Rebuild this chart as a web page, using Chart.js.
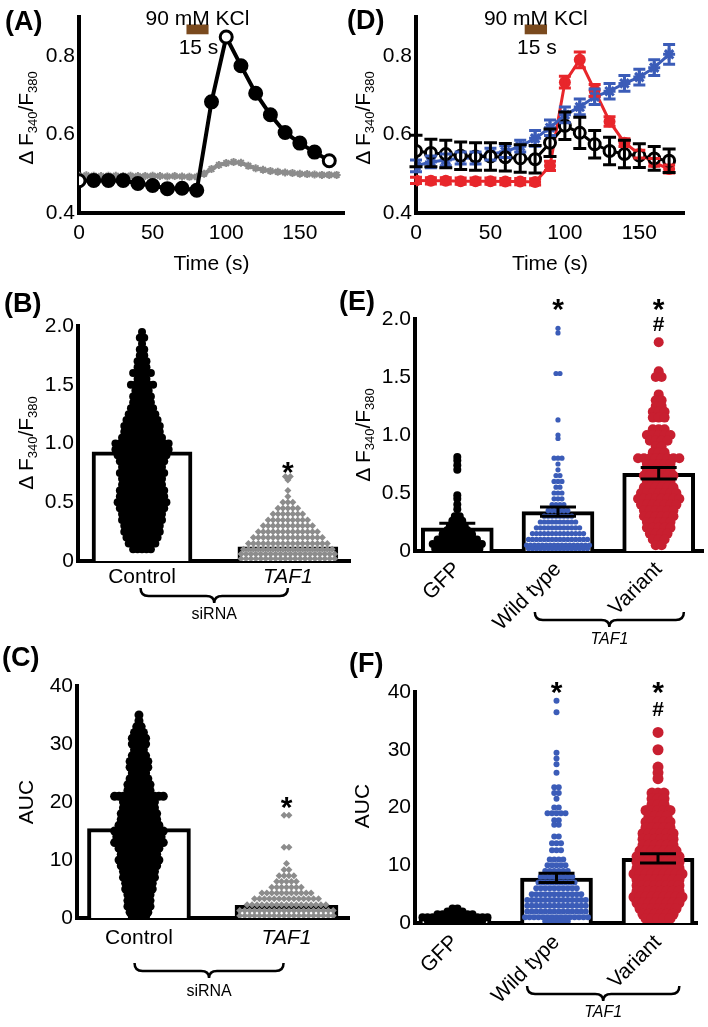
<!DOCTYPE html>
<html lang="en">
<head>
<meta charset="UTF-8">
<title>TAF1 KCl calcium responses</title>
<script src="https://cdn.jsdelivr.net/npm/chart.js"></script>
<style>
  body { margin: 0; background: #fff; font-family: 'Liberation Sans', Arial, sans-serif; }
  #fig { position: relative; width: 708px; height: 1027px; overflow: hidden; }
  #fig canvas { position: absolute; }
  .lbl { position: absolute; font-weight: bold; font-size: 27px; line-height: 1; transform: translateY(-50%); }
  .ytitle { position: absolute; font-size: 21px; line-height: 1; white-space: nowrap; transform: translate(-50%, -50%) rotate(-90deg); }
  .ytitle sub { font-size: 13px; vertical-align: -4px; }
</style>
</head>
<body>
<div id="fig">
  <canvas id="cA" width="354" height="280" style="left:0;top:0"></canvas>
  <canvas id="cD" width="354" height="280" style="left:354px;top:0"></canvas>
  <canvas id="cB" width="354" height="350" style="left:0;top:280px"></canvas>
  <canvas id="cE" width="354" height="380" style="left:354px;top:270px"></canvas>
  <canvas id="cC" width="354" height="380" style="left:0;top:630px"></canvas>
  <canvas id="cF" width="354" height="377" style="left:354px;top:650px"></canvas>

  <div class="lbl" style="left:5px;top:21px">(A)</div>
  <div class="lbl" style="left:347px;top:20px">(D)</div>
  <div class="lbl" style="left:4px;top:303px">(B)</div>
  <div class="lbl" style="left:339px;top:301px">(E)</div>
  <div class="lbl" style="left:2px;top:657px">(C)</div>
  <div class="lbl" style="left:349px;top:663px">(F)</div>

  <div class="ytitle" style="left:27px;top:118px">&Delta; F<sub>340</sub>/F<sub>380</sub></div>
  <div class="ytitle" style="left:364px;top:118px">&Delta; F<sub>340</sub>/F<sub>380</sub></div>
  <div class="ytitle" style="left:27px;top:443px">&Delta; F<sub>340</sub>/F<sub>380</sub></div>
  <div class="ytitle" style="left:364px;top:435px">&Delta; F<sub>340</sub>/F<sub>380</sub></div>
  <div class="ytitle" style="left:25px;top:802px">AUC</div>
  <div class="ytitle" style="left:361px;top:806px">AUC</div>
</div>

<script>
// ---------- data ----------
const timeTicks = [0, 50, 100, 150];
const ratioTicksA = [0.4, 0.6, 0.8];
const ratioTicks = [0, 0.5, 1, 1.5, 2];
const aucTicks = [0, 10, 20, 30, 40];

// (A) siRNA traces
const timeA = [0, 10, 20, 30, 40, 50, 60, 70, 80, 90, 100, 110, 120, 130, 140, 150, 160, 170];
const aControl = [0.482, 0.483, 0.483, 0.483, 0.475, 0.47, 0.462, 0.463, 0.458, 0.683, 0.848, 0.775, 0.705, 0.65, 0.605, 0.578, 0.555, 0.533];
const timeGray = [0, 5, 10, 15, 20, 25, 30, 35, 40, 45, 50, 55, 60, 65, 70, 75, 80, 85, 90, 95, 100, 105, 110, 115, 120, 125, 130, 135, 140, 145, 150, 155, 160, 165, 170, 175];
const aTaf1 = [0.495, 0.496, 0.495, 0.494, 0.495, 0.495, 0.494, 0.495, 0.494, 0.494, 0.495, 0.494, 0.493, 0.494, 0.493, 0.492, 0.492, 0.5, 0.512, 0.522, 0.527, 0.53, 0.528, 0.52, 0.514, 0.51, 0.507, 0.505, 0.503, 0.502, 0.5, 0.499, 0.498, 0.497, 0.497, 0.497];
const stimStart = 73, stimEnd = 88;

// (D) overexpression traces
const timeD = [0, 10, 20, 30, 40, 50, 60, 70, 80, 90, 100, 110, 120, 130, 140, 150, 160, 170];
const dGfp = [0.558, 0.553, 0.55, 0.546, 0.544, 0.544, 0.542, 0.539, 0.537, 0.579, 0.622, 0.604, 0.575, 0.558, 0.55, 0.546, 0.539, 0.533];
const dGfpSem = [0.04, 0.035, 0.035, 0.035, 0.035, 0.035, 0.035, 0.035, 0.035, 0.035, 0.035, 0.04, 0.035, 0.035, 0.035, 0.03, 0.03, 0.03];
const dVariant = [0.483, 0.482, 0.482, 0.481, 0.481, 0.481, 0.48, 0.48, 0.479, 0.52, 0.733, 0.79, 0.712, 0.633, 0.579, 0.55, 0.529, 0.512];
const dVariantSem = [0.008, 0.008, 0.008, 0.008, 0.008, 0.008, 0.008, 0.008, 0.008, 0.012, 0.015, 0.02, 0.015, 0.012, 0.01, 0.01, 0.01, 0.01];
const dWild = [0.52, 0.53, 0.535, 0.54, 0.54, 0.55, 0.556, 0.57, 0.59, 0.617, 0.65, 0.67, 0.696, 0.71, 0.73, 0.746, 0.77, 0.804];
const dWildSem = [0.015, 0.015, 0.015, 0.015, 0.015, 0.015, 0.015, 0.015, 0.02, 0.02, 0.02, 0.02, 0.02, 0.02, 0.02, 0.02, 0.02, 0.025];

// (B) peak response, siRNA
const sirnaGroups = ['Control', 'TAF1'];
const bMeans = [0.93, 0.12];
const bSem = [0.02, 0];
const bCtrlLevels = [1.95, 1.9, 1.85, 1.8, 1.75, 1.7, 1.65, 1.6, 1.55, 1.5, 1.45, 1.4, 1.35, 1.3, 1.25, 1.2, 1.15, 1.1, 1.05, 1.0, 0.95, 0.9, 0.85, 0.8, 0.75, 0.7, 0.65, 0.6, 0.55, 0.5, 0.45, 0.4, 0.35, 0.3, 0.25, 0.2, 0.15, 0.1];
const bCtrlCounts = [1, 2, 1, 2, 2, 3, 3, 5, 3, 6, 4, 5, 5, 6, 7, 8, 9, 9, 10, 13, 13, 12, 11, 10, 11, 10, 10, 11, 11, 12, 11, 10, 10, 9, 9, 8, 7, 5];
const bTafLevels = [0.72, 0.69, 0.6, 0.55, 0.5, 0.45, 0.4, 0.35, 0.3, 0.25, 0.2, 0.15, 0.1, 0.06, 0.02];
const bTafCounts = [2, 1, 1, 1, 3, 5, 7, 9, 11, 13, 15, 17, 19, 20, 20];

// (C) AUC, siRNA
const cMeans = [15.4, 2.2];
const cSem = [0.5, 0];
const cCtrlLevels = [35, 34, 33, 32, 31, 30, 29, 28, 27, 26, 25, 24, 23, 22, 21, 20, 19, 18, 17, 16, 15, 14, 13, 12, 11, 10, 9, 8, 7, 6, 5, 4, 3, 2, 1, 0.3];
const cCtrlCounts = [1, 1, 2, 3, 4, 4, 3, 4, 5, 5, 4, 5, 6, 6, 12, 8, 8, 9, 9, 10, 12, 11, 12, 10, 9, 10, 9, 8, 8, 7, 7, 6, 6, 6, 5, 4];
const cTafLevels = [17.7, 12.2, 9.4, 8.3, 7.3, 6.3, 5.3, 4.3, 3.3, 2.3, 1.3, 0.4];
const cTafCounts = [2, 2, 1, 2, 4, 5, 7, 11, 14, 17, 20, 20];

// (E) peak response, overexpression
const oeGroups = ['GFP', 'Wild type', 'Variant'];
const eMeans = [0.2, 0.34, 0.67];
const eSem = [0.04, 0.04, 0.05];
const eGfpLevels = [0.81, 0.78, 0.74, 0.7, 0.48, 0.45, 0.4, 0.36, 0.3, 0.26, 0.22, 0.18, 0.14, 0.1, 0.06, 0.02];
const eGfpCounts = [1, 1, 1, 1, 1, 1, 1, 1, 2, 3, 4, 5, 7, 9, 11, 10];
const eWtLevels = [1.92, 1.88, 1.53, 1.13, 1.0, 0.97, 0.8, 0.75, 0.7, 0.65, 0.6, 0.55, 0.5, 0.45, 0.4, 0.35, 0.3, 0.25, 0.2, 0.15, 0.1, 0.05, 0.02];
const eWtCounts = [1, 1, 2, 1, 1, 1, 3, 1, 1, 2, 3, 2, 3, 3, 4, 6, 8, 10, 12, 14, 16, 17, 16];
const eVarLevels = [1.8, 1.55, 1.5, 1.35, 1.3, 1.25, 1.2, 1.15, 1.05, 1.0, 0.95, 0.9, 0.85, 0.8, 0.75, 0.7, 0.65, 0.6, 0.55, 0.5, 0.45, 0.4, 0.35, 0.3, 0.25, 0.2, 0.15, 0.1, 0.05];
const eVarCounts = [1, 1, 2, 1, 2, 2, 3, 3, 3, 5, 4, 2, 3, 8, 5, 5, 6, 5, 6, 7, 8, 7, 6, 6, 5, 5, 4, 3, 2];

// (F) AUC, overexpression
const fMeans = [0.9, 7.8, 11.2];
const fSem = [0.1, 0.8, 0.8];
const fGfpLevels = [2.5, 2.0, 1.5, 1.0, 0.5];
const fGfpCounts = [2, 4, 8, 14, 12];
const fWtLevels = [38.5, 36.5, 29.5, 28.5, 27.5, 26, 23.5, 22.5, 21.5, 20, 19, 17.8, 17, 15, 13.8, 12.6, 11, 10, 9, 8, 7, 6, 5, 4, 3, 2, 1, 0.3];
const fWtCounts = [1, 1, 1, 1, 1, 1, 2, 2, 1, 2, 5, 2, 2, 2, 3, 3, 4, 5, 6, 8, 9, 10, 12, 14, 14, 14, 15, 6];
const fVarLevels = [33, 30, 27, 26, 25, 22.5, 21.5, 20.5, 19.5, 18.5, 17.5, 16.5, 15.5, 14.5, 13.5, 12.5, 11.5, 10.5, 9.5, 8.5, 7.5, 6.5, 5.5, 4.5, 3.5, 2.5, 1.5, 0.8];
const fVarCounts = [1, 1, 1, 1, 1, 3, 3, 3, 5, 4, 5, 5, 6, 6, 6, 7, 8, 8, 8, 9, 8, 8, 8, 9, 8, 7, 6, 5];

// ---------- look ----------
const FONT = "'Liberation Sans', Arial, sans-serif";
const BLUE = '#3b5cb8', RED = '#c81f30', RED_D = '#e8262b', GRAY = '#8c8c8c';

Chart.defaults.font.family = FONT;
Chart.defaults.font.size = 21;
Chart.defaults.color = '#000';
Chart.defaults.animation = false;
Chart.defaults.plugins.legend.display = false;
Chart.defaults.plugins.tooltip.enabled = false;

const pairs = (xs, ys) => xs.map((x, i) => ({ x: x, y: ys[i] }));

// error bars, significance marks, brace, stimulus bar
const extras = {
  id: 'extras',
  afterDatasetsDraw(chart) {
    const ctx = chart.ctx, ys = chart.scales.y;
    chart.data.datasets.forEach((ds, i) => {
      if (!ds.sem) return;
      const meta = chart.getDatasetMeta(i);
      ctx.save();
      ctx.strokeStyle = ds.errColor || '#000';
      ctx.lineWidth = ds.errWidth || 3;
      meta.data.forEach((el, j) => {
        const v = ds.data[j].y, s = ds.sem[j], w = ds.capWidth / 2;
        if (!s) return;
        const hi = ys.getPixelForValue(v + s), lo = ys.getPixelForValue(v - s);
        ctx.beginPath();
        ctx.moveTo(el.x, lo); ctx.lineTo(el.x, hi);
        ctx.moveTo(el.x - w, hi); ctx.lineTo(el.x + w, hi);
        ctx.moveTo(el.x - w, lo); ctx.lineTo(el.x + w, lo);
        ctx.stroke();
      });
      ctx.restore();
    });
  },
  afterDraw(chart) {
    const o = chart.options.plugins.extras || {};
    const ctx = chart.ctx, xs = chart.scales.x, ys = chart.scales.y;
    const bottom = chart.chartArea.bottom;
    ctx.save();
    ctx.fillStyle = '#000';
    ctx.strokeStyle = '#000';
    ctx.textAlign = 'center';
    ctx.textBaseline = 'alphabetic';

    if (o.stim) {
      const s = o.stim;
      const x0 = xs.getPixelForValue(s.x0), x1 = xs.getPixelForValue(s.x1);
      const y0 = ys.getPixelForValue(s.y1), y1 = ys.getPixelForValue(s.y0);
      ctx.fillStyle = '#7a4a1e';
      ctx.fillRect(x0, y0, x1 - x0, y1 - y0);
      ctx.fillStyle = '#000';
      ctx.font = '21px ' + FONT;
      ctx.fillText(s.top, (x0 + x1) / 2, y0 + 1);
      ctx.fillText(s.bottom, (x0 + x1) / 2 + 1, y1 + 20);
    }

    (o.marks || []).forEach(m => {
      const x = xs.getPixelForValue(m.x), y = ys.getPixelForValue(m.y);
      if (m.t === '*') {
        ctx.font = 'bold 30px ' + FONT;
        ctx.fillText('*', x, y + 17);
      } else {
        ctx.font = 'bold 21px ' + FONT;
        ctx.fillText(m.t, x, y + 7.5);
      }
    });

    if (o.brace) {
      const b = o.brace;
      const x0 = xs.getPixelForValue(b.x0), x1 = xs.getPixelForValue(b.x1), xc = (x0 + x1) / 2;
      const top = bottom + b.dy, h = 8, line = top + h;
      ctx.lineWidth = 2.5;
      ctx.beginPath();
      ctx.moveTo(x0, top);
      ctx.quadraticCurveTo(x0, line, x0 + h, line);
      ctx.lineTo(xc - h, line);
      ctx.quadraticCurveTo(xc, line, xc, line + 7);
      ctx.quadraticCurveTo(xc, line, xc + h, line);
      ctx.lineTo(x1 - h, line);
      ctx.quadraticCurveTo(x1, line, x1, top);
      ctx.stroke();
      ctx.font = (b.italic ? 'italic ' : '') + '16px ' + FONT;
      ctx.textBaseline = 'middle';
      ctx.fillText(b.label, xc, bottom + b.labelDy);
    }
    ctx.restore();
  }
};

function yAxis(min, max, ticks, width, fmt) {
  return {
    type: 'linear', min: min, max: max,
    afterBuildTicks: s => { s.ticks = ticks.map(v => ({ value: v })); },
    afterFit: s => { s.width = width; },
    grid: { display: false, drawTicks: false },
    border: { display: true, color: '#000', width: 4 },
    ticks: { padding: 4, color: '#000', callback: fmt }
  };
}

function timeAxis(height) {
  return {
    type: 'linear', min: 0, max: 180, offset: false,
    afterBuildTicks: s => { s.ticks = timeTicks.map(v => ({ value: v })); },
    afterFit: s => { s.height = height; },
    grid: { display: false, drawTicks: false },
    border: { display: true, color: '#000', width: 4 },
    ticks: { padding: 8, maxRotation: 0, autoSkip: false },
    title: { display: true, text: 'Time (s)', padding: { top: 0, bottom: 3 } }
  };
}

function catAxis(min, max, names, italic, height, rot, pad) {
  return {
    type: 'linear', min: min, max: max, offset: false,
    afterBuildTicks: s => { s.ticks = names.map((n, i) => ({ value: i })); },
    afterFit: s => { s.height = height; },
    grid: { display: false, drawTicks: false, offset: false },
    border: { display: true, color: '#000', width: 4 },
    ticks: {
      autoSkip: false, minRotation: rot, maxRotation: rot, padding: pad,
      callback: v => names[v],
      font: c => ({ size: 21, style: italic.includes(c.index) ? 'italic' : 'normal' })
    }
  };
}

const fmtRatio = v => (v === 0 ? '0' : v.toFixed(1));
const fmtInt = v => String(v);

// ---------- (A) ----------
new Chart(document.getElementById('cA'), {
  type: 'scatter',
  data: {
    datasets: [
      {
        data: pairs(timeA, aControl), showLine: true, borderColor: '#000', borderWidth: 4,
        pointRadius: 6, pointBorderWidth: 3, pointBorderColor: '#000',
        pointBackgroundColor: timeA.map((t, i) => (i === 0 || i === 10 || i === 17 ? '#fff' : '#000')),
        order: 1
      },
      {
        data: pairs(timeGray, aTaf1), showLine: true, borderColor: GRAY, borderWidth: 4,
        pointStyle: 'star', pointRadius: 4, pointBorderWidth: 2, pointBorderColor: GRAY,
        pointBackgroundColor: GRAY, order: 2
      }
    ]
  },
  options: {
    responsive: false,
    layout: { padding: { left: 0, right: 10, top: 15, bottom: 0 } },
    scales: { x: timeAxis(67), y: yAxis(0.4, 0.9, ratioTicksA, 79, v => v.toFixed(1)) },
    plugins: { extras: { stim: { x0: stimStart, x1: stimEnd, y0: 0.855, y1: 0.88, top: '90 mM KCl', bottom: '15 s' } } }
  },
  plugins: [extras]
});

// ---------- (D) ----------
new Chart(document.getElementById('cD'), {
  type: 'scatter',
  data: {
    datasets: [
      {
        data: pairs(timeD, dVariant), showLine: true, borderColor: RED_D, borderWidth: 3,
        pointRadius: 6, pointBorderWidth: 0, pointBackgroundColor: RED_D,
        sem: dVariantSem, capWidth: 12, errColor: RED_D, order: 3
      },
      {
        data: pairs(timeD, dWild), showLine: true, borderColor: BLUE, borderWidth: 3,
        pointStyle: 'star', pointRadius: 6, pointBorderWidth: 3, pointBorderColor: BLUE,
        pointBackgroundColor: BLUE, sem: dWildSem, capWidth: 12, errColor: BLUE, order: 2
      },
      {
        data: pairs(timeD, dGfp), showLine: true, borderColor: '#000', borderWidth: 3,
        pointRadius: 5.5, pointBorderWidth: 3, pointBorderColor: '#000', pointBackgroundColor: '#fff',
        sem: dGfpSem, capWidth: 13, errColor: '#000', order: 1
      }
    ]
  },
  options: {
    responsive: false,
    layout: { padding: { left: 0, right: 24, top: 15, bottom: 0 } },
    scales: { x: timeAxis(67), y: yAxis(0.4, 0.9, ratioTicksA, 62, v => v.toFixed(1)) },
    plugins: { extras: { stim: { x0: stimStart, x1: stimEnd, y0: 0.855, y1: 0.88, top: '90 mM KCl', bottom: '15 s' } } }
  },
  plugins: [extras]
});

// ---------- bar + dot panels ----------
function dotPanel(id, cfg) {
  const datasets = [{
    type: 'bar', data: cfg.means.map((v, i) => ({ x: i, y: v })), sem: cfg.sem, capWidth: cfg.cap,
    backgroundColor: '#fff', borderColor: '#000', borderWidth: 4, barThickness: cfg.barW, order: 5
  }];
  cfg.groups.forEach(g => datasets.push({
    type: 'scatter', data: [], pointStyle: g.style || 'circle', pointRadius: g.r,
    pointBackgroundColor: g.color, pointBorderWidth: 0, order: 1
  }));
  const chart = new Chart(document.getElementById(id), {
    type: 'bar',
    data: { datasets: datasets },
    options: {
      responsive: false,
      layout: { padding: cfg.pad },
      scales: { x: cfg.x, y: cfg.y },
      plugins: { extras: cfg.extras }
    },
    plugins: [extras]
  });
  // lay the dots out side by side in rows (scatter dot plot)
  const xs = chart.scales.x;
  const unit = xs.getPixelForValue(1) - xs.getPixelForValue(0);
  cfg.groups.forEach((g, k) => {
    const pts = [];
    g.levels.forEach((v, j) => {
      const n = g.counts[j];
      for (let i = 0; i < n; i++) pts.push({ x: k + (i - (n - 1) / 2) * g.gap / unit, y: v });
    });
    chart.data.datasets[k + 1].data = pts;
  });
  chart.update('none');
}

dotPanel('cB', {
  means: bMeans, sem: bSem, cap: 46, barW: 100,
  pad: { left: 0, right: 0, top: 46, bottom: 0 },
  x: catAxis(-0.439, 1.426, sirnaGroups, [1], 69, 0, 4),
  y: yAxis(0, 2, ratioTicks, 78, fmtRatio),
  groups: [
    { levels: bCtrlLevels, counts: bCtrlCounts, color: '#000', r: 4, gap: 4.5 },
    { levels: bTafLevels, counts: bTafCounts, color: GRAY, r: 3.5, gap: 5, style: 'rectRot' }
  ],
  extras: { marks: [{ x: 1, y: 0.82, t: '*' }], brace: { x0: -0.01, x1: 1.0, dy: 27, label: 'siRNA', labelDy: 54, italic: false } }
});

dotPanel('cC', {
  means: cMeans, sem: cSem, cap: 46, barW: 103,
  pad: { left: 0, right: 0, top: 56, bottom: 0 },
  x: catAxis(-0.42, 1.427, sirnaGroups, [1], 92, 0, 8),
  y: yAxis(0, 40, aucTicks, 77, fmtInt),
  groups: [
    { levels: cCtrlLevels, counts: cCtrlCounts, color: '#000', r: 4.5, gap: 4.5 },
    { levels: cTafLevels, counts: cTafCounts, color: GRAY, r: 3.5, gap: 5, style: 'rectRot' }
  ],
  extras: { marks: [{ x: 1, y: 20.3, t: '*' }], brace: { x0: -0.03, x1: 0.98, dy: 45, label: 'siRNA', labelDy: 74, italic: false } }
});

dotPanel('cE', {
  means: eMeans, sem: eSem, cap: 36, barW: 72,
  pad: { left: 0, right: 0, top: 49, bottom: 0 },
  x: catAxis(-0.42, 2.44, oeGroups, [], 99, 45, 6),
  y: yAxis(0, 2, ratioTicks, 61, fmtRatio),
  groups: [
    { levels: eGfpLevels, counts: eGfpCounts, color: '#000', r: 4, gap: 5 },
    { levels: eWtLevels, counts: eWtCounts, color: BLUE, r: 2.6, gap: 4 },
    { levels: eVarLevels, counts: eVarCounts, color: RED, r: 5, gap: 6 }
  ],
  extras: {
    marks: [{ x: 1, y: 2.15, t: '*' }, { x: 2, y: 2.15, t: '*' }, { x: 2, y: 1.96, t: '#' }],
    brace: { x0: 0.77, x1: 2.25, dy: 61, label: 'TAF1', labelDy: 89, italic: true }
  }
});

dotPanel('cF', {
  means: fMeans, sem: fSem, cap: 36, barW: 72,
  pad: { left: 0, right: 11, top: 42, bottom: 0 },
  x: catAxis(-0.394, 2.384, oeGroups, [], 104, 45, 7),
  y: yAxis(0, 40, aucTicks, 61, fmtInt),
  groups: [
    { levels: fGfpLevels, counts: fGfpCounts, color: '#000', r: 4, gap: 5 },
    { levels: fWtLevels, counts: fWtCounts, color: BLUE, r: 3, gap: 4.5 },
    { levels: fVarLevels, counts: fVarCounts, color: RED, r: 5.5, gap: 6 }
  ],
  extras: {
    marks: [{ x: 1, y: 41.2, t: '*' }, { x: 2, y: 41.2, t: '*' }, { x: 2, y: 37.2, t: '#' }],
    brace: { x0: 0.71, x1: 2.21, dy: 63, label: 'TAF1', labelDy: 90, italic: true }
  }
});
</script>
</body>
</html>
